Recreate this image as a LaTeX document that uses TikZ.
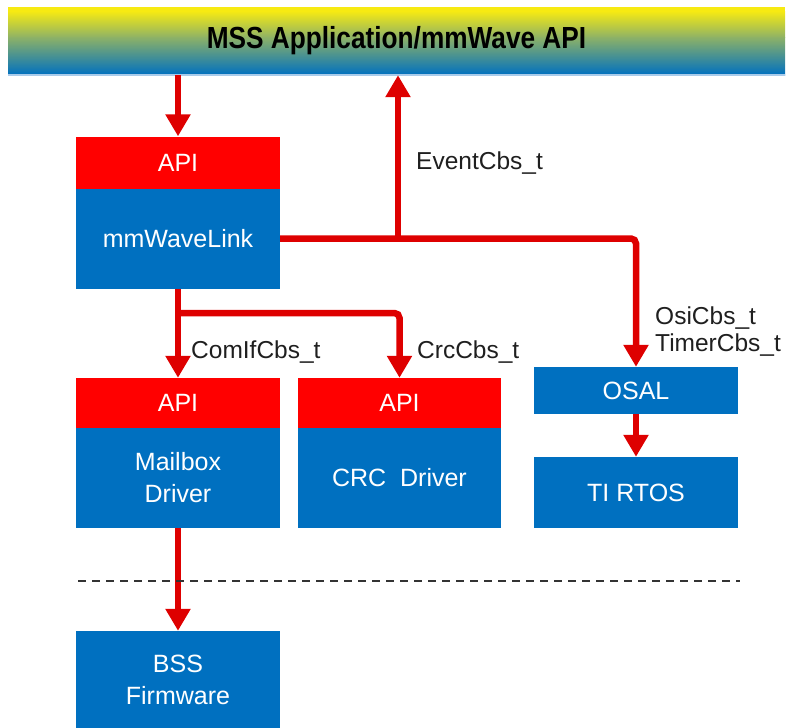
\documentclass[tikz,border=0pt]{standalone}
\usepackage{fontspec}
\setmainfont{Liberation Sans}
\newfontfamily\titlefont[FakeStretch=0.86]{Liberation Sans}
\usetikzlibrary{arrows.meta}
\definecolor{tired}{HTML}{FF0000}
\definecolor{tiblue}{HTML}{0070C0}
\definecolor{arrred}{HTML}{DE0000}
\definecolor{baryellow}{HTML}{F7EA12}
\definecolor{bargreen}{HTML}{8EB266}
\definecolor{barteal}{HTML}{45888F}
\definecolor{barline}{HTML}{A9CBEA}
\begin{document}
\begin{tikzpicture}[x=1pt,y=-1pt,
  box/.style={fill=tiblue,text=white,inner sep=0pt,minimum width=204pt,
    font=\fontsize{25}{32}\selectfont,align=center},
  apibox/.style={box,fill=tired},
  conn/.style={draw=arrred,line width=6.5pt,rounded corners=5pt},
  arr/.style={conn,-{Triangle[length=22pt,width=24pt]}},
  lbl/.style={anchor=west,font=\fontsize{24.5}{28}\selectfont,text=black!88,inner sep=0pt}]
\useasboundingbox (0,0) rectangle (788,728);
% top bar (gradient drawn in bands)
\fill[baryellow] (8,7) rectangle (785,11.5);
\shade[top color=baryellow,bottom color=bargreen] (8,11) rectangle (785,37.5);
\shade[top color=bargreen,middle color=barteal,bottom color=tiblue] (8,37) rectangle (785,75);
\node[minimum width=777pt,minimum height=68pt,inner sep=0pt,
  font=\titlefont\bfseries\fontsize{30.5}{36}\selectfont] (bar) at (396.5,41)
  {MSS Application/mmWave API};
\draw[barline,line width=1.5pt] (bar.south west) -- (bar.south east);
% mmWaveLink
\node[apibox,minimum height=52pt] (api1) at (178,162.5) {API};
\node[box,minimum height=100pt] (mwl) at (178,238.5) {mmWaveLink};
% Mailbox
\node[apibox,minimum height=50pt] (api2) at (178,403) {API};
\node[box,minimum height=100pt] (mbx) at (178,478) {Mailbox\\Driver};
% CRC
\node[apibox,minimum height=50pt,minimum width=203pt] (api3) at (399.5,403) {API};
\node[box,minimum height=100pt,minimum width=203pt] (crc) at (399.5,478) {CRC~ Driver};
% OSAL / RTOS
\node[box,minimum height=47pt] (osal) at (636,390.5) {OSAL};
\node[box,minimum height=71pt] (rtos) at (636,492.5) {TI RTOS};
% BSS
\node[box,minimum height=97pt] (bss) at (178,679.5) {BSS\\Firmware};
% connectors
\coordinate (j1) at (398,238.5);
\coordinate (j2) at (178,313);
\draw[arr] (bar.south -| api1.north) -- (api1.north);
\draw[arr] (mwl.east) -| (osal.north);
\draw[arr] (j1) -- (j1 |- bar.south);
\draw[arr] (mwl.south) -- (api2.north);
\draw[arr] (j2) -| (api3.north);
\draw[arr] (osal.south) -- (rtos.north);
\draw[arr] (mbx.south) -- (bss.north);
% dashed separator
\coordinate (d1) at (78,581);
\coordinate (d2) at (740,581);
\draw[black!80,line width=1.5pt,dash pattern=on 8pt off 6pt] (d1) -- (d2);
% labels
\node[lbl] (l1) at (416,163) {EventCbs\_t};
\node[lbl] (l2) at (191,352) {ComIfCbs\_t};
\node[lbl] (l3) at (417,352) {CrcCbs\_t};
\node[lbl] (l4) at (655,318) {OsiCbs\_t};
\node[lbl] (l5) at (655,345) {TimerCbs\_t};
\end{tikzpicture}
\end{document}
